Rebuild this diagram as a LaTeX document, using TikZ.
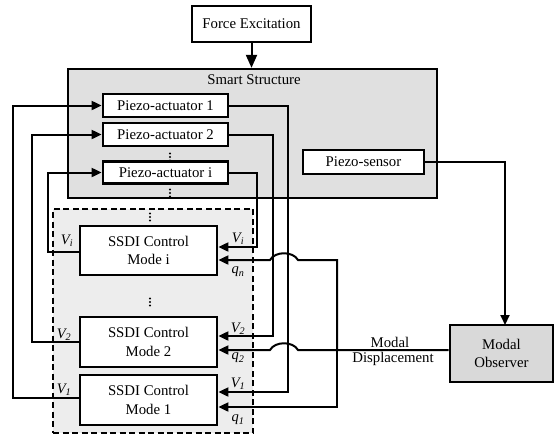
\documentclass[tikz,border=0pt]{standalone}
\usepackage{fontspec}
\setmainfont{Liberation Serif}
\usetikzlibrary{arrows.meta,calc}

\tikzset{
  blk/.style={draw=black, line width=2.8pt, fill=white, inner sep=0pt, align=center,
              font=\fontsize{14.8}{18.5}\selectfont},
  wire/.style={line width=2pt, line join=miter},
  arr/.style={wire, -{Triangle[length=10pt,width=9pt]}},
  sig/.style={inner sep=0pt, font=\fontsize{14.5}{16}\selectfont\itshape},
  txt/.style={inner sep=0pt, font=\fontsize{14.8}{18}\selectfont},
  vdots/.pic={\foreach \k in {-3.5,0,3.5} \fill (0,\k) circle (1.1pt);}
}

\newcommand{\sym}[2]{#1\textsubscript{#2}}

\begin{document}
\begin{tikzpicture}[x=1pt, y=-1pt]
\useasboundingbox (0,0) rectangle (554,437);

% controller group (dashed) and the structure
\node[draw=black, dash pattern=on 6pt off 3.5pt, line width=1.6pt, fill=black!7, minimum width=200pt, minimum height=224pt] (group) at (153,321) {};
\node[draw=black, line width=2.3pt, fill=black!12, minimum width=369pt, minimum height=129pt] (smart) at (252.5,133.5) {};
\node[txt] (smarttitle) at (254,80) {Smart Structure};

% blocks
\node[blk, minimum width=119pt, minimum height=36pt] (force) at (251.5,24) {Force Excitation};
\node[blk, minimum width=125pt, minimum height=23pt] (act1) at (165.5,105.5) {Piezo-actuator 1};
\node[blk, minimum width=125pt, minimum height=23pt] (act2) at (165.5,134.5) {Piezo-actuator 2};
\node[blk, minimum width=125pt, minimum height=22pt] (acti) at (165.5,172.5) {Piezo-actuator i};
\node[blk, minimum width=121pt, minimum height=24pt] (sensor) at (363.5,162) {Piezo-sensor};
\node[blk, fill=black!15, minimum width=103pt, minimum height=57pt] (observer) at (501.5,353.5) {Modal\\Observer};
\node[blk, minimum width=137pt, minimum height=49pt] (modei) at (148.5,250.5) {SSDI Control\\Mode i};
\node[blk, minimum width=137pt, minimum height=50pt] (mode2) at (148.5,342) {SSDI Control\\Mode 2};
\node[blk, minimum width=137pt, minimum height=50pt] (mode1) at (148.5,400) {SSDI Control\\Mode 1};

% continuation dots
\pic at (170,157) {vdots};
\pic at (170,193) {vdots};
\pic at (150,217) {vdots};
\pic at (150,302) {vdots};

% excitation and sensing
\draw[wire, -{Triangle[length=13pt,width=11pt]}] (force.south) -- (smart.north -| force.south);
\coordinate (obsin) at (505,325);
\draw[arr] (sensor.east) -| (obsin);

% actuator voltages back to the controllers
\draw[arr] (act1.east) -- (288,105.5) -- (288,392) -- (mode1.east |- 0,392);
\draw[arr] (act2.east) -- (273,134.5) -- (273,336) -- (mode2.east |- 0,336);
\draw[arr] (acti.east) -- (257,172.5) -- (257,247) -- (modei.east |- 0,247);

% controller outputs to the actuators
\draw[arr] (mode1.west |- 0,398) -- (13,398) -- (13,105.5) -- (act1.west);
\draw[arr] (mode2.west) -- (32,342) -- (32,134.5) -- (act2.west);
\draw[arr] (modei.west |- 0,252) -- (48,252) -- (48,172.5) -- (acti.west);

% modal displacement to the controllers
\coordinate (junc) at (337,350);
\draw[arr] (observer.west |- junc) -- (298,350) .. controls (293,341) and (275,341) .. (270,350) -- (mode2.east |- 0,350);
\draw[arr] (junc) -- (337,260) -- (298,260) .. controls (293,251) and (275,251) .. (270,260) -- (modei.east |- 0,260);
\draw[arr] (junc) -- (337,407) -- (mode1.east |- 0,407);

% labels
\node[txt] (lblmodal) at (390,342) {Modal};
\node[txt] (lbldisp) at (393,359) {Displacement};

\node[sig] (vir) at (238,239) {\sym{V}{i}};
\node[sig] (qn) at (238,272) {\sym{q}{n}};
\node[sig] (v2r) at (238,329) {\sym{V}{2}};
\node[sig] (q2) at (238,358) {\sym{q}{2}};
\node[sig] (v1r) at (238,384) {\sym{V}{1}};
\node[sig] (q1) at (238,420) {\sym{q}{1}};
\node[sig] (vil) at (67,241) {\sym{V}{i}};
\node[sig] (v2l) at (64,335) {\sym{V}{2}};
\node[sig] (v1l) at (64,390) {\sym{V}{1}};
\end{tikzpicture}
\end{document}
